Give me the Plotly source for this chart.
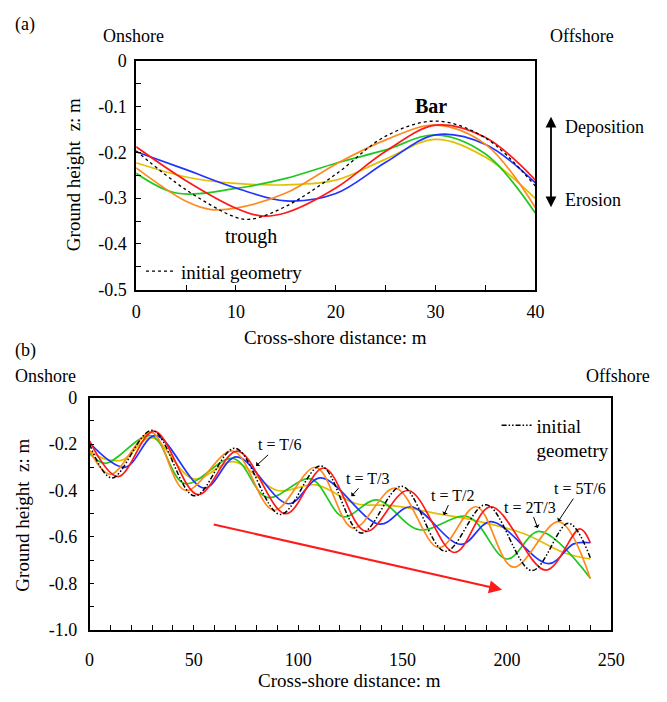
import plotly.graph_objects as go

W, H = 667, 702


def px(x):
    return x / W


def py(y):
    return 1 - y / H


FONT = "Liberation Serif"

# ---------------- Panel (a) data: cross-shore distance (m) / ground height (m)
a_init_x = [0, 5, 10, 11.5, 15, 20, 25, 30, 35, 40]
a_init_y = [-0.197, -0.282, -0.342, -0.346, -0.318, -0.248, -0.165, -0.132, -0.169, -0.274]
a_red_x = [0, 5, 10, 12.5, 15, 20, 25, 30, 35, 40]
a_red_y = [-0.188, -0.262, -0.322, -0.339, -0.332, -0.278, -0.198, -0.141, -0.168, -0.261]
a_orange_x = [0, 5, 7.5, 10, 15, 20, 25, 30, 35, 40]
a_orange_y = [-0.234, -0.307, -0.325, -0.322, -0.289, -0.226, -0.173, -0.141, -0.183, -0.321]
a_blue_x = [0, 5, 10, 15, 20, 25, 30, 35, 40]
a_blue_y = [-0.199, -0.238, -0.278, -0.306, -0.290, -0.222, -0.162, -0.183, -0.267]
a_green_x = [0, 4, 10, 15, 20, 25, 30, 35, 40]
a_green_y = [-0.246, -0.289, -0.279, -0.257, -0.224, -0.195, -0.162, -0.204, -0.333]
a_yellow_x = [0, 5, 10, 15, 20, 25, 30, 35, 40]
a_yellow_y = [-0.223, -0.254, -0.268, -0.271, -0.261, -0.215, -0.172, -0.211, -0.301]

# ---------------- Panel (b) data
b_init_x = [0, 10.7, 30, 50.3, 69.7, 91.4, 110.8, 130.2, 149.6, 170.5, 190, 212, 229.5, 240]
b_init_y = [-0.20, -0.346, -0.141, -0.423, -0.218, -0.503, -0.294, -0.583, -0.382, -0.662, -0.461, -0.745, -0.541, -0.69]
b_red_x = [0, 13.7, 31, 52, 70.9, 94, 112.3, 132.5, 152.7, 175, 192.3, 218.7, 235, 240]
b_red_y = [-0.186, -0.34, -0.144, -0.418, -0.23, -0.50, -0.303, -0.576, -0.40, -0.667, -0.47, -0.743, -0.565, -0.625]
b_orange_x = [0, 10, 29.6, 46, 68.6, 88.3, 108.4, 126.3, 146.5, 167.4, 185.3, 203, 224.9, 240]
b_orange_y = [-0.227, -0.33, -0.15, -0.40, -0.23, -0.485, -0.30, -0.562, -0.39, -0.646, -0.47, -0.73, -0.534, -0.78]
b_blue_x = [0, 17, 31.6, 55, 70.4, 95.3, 110.8, 139, 154, 178, 192.3, 220, 232, 240]
b_blue_y = [-0.195, -0.30, -0.164, -0.39, -0.255, -0.457, -0.346, -0.545, -0.47, -0.632, -0.534, -0.715, -0.63, -0.625]
b_green_x = [0, 7.6, 29.6, 45.6, 68.9, 85.2, 106, 121.6, 137.5, 158, 181.4, 200, 215.5, 240]
b_green_y = [-0.24, -0.283, -0.164, -0.37, -0.262, -0.43, -0.35, -0.513, -0.44, -0.569, -0.513, -0.695, -0.576, -0.778]
b_yellow_x = [0, 8, 16, 29.6, 50, 69, 90, 108.5, 128, 145, 170, 185, 208, 228, 240]
b_yellow_y = [-0.23, -0.266, -0.268, -0.172, -0.35, -0.276, -0.40, -0.376, -0.457, -0.465, -0.505, -0.53, -0.585, -0.67, -0.695]

# tick labels
a_xticks = [0, 10, 20, 30, 40]
a_yticks = [0, -0.1, -0.2, -0.3, -0.4, -0.5]
a_yticktext = ["0", "-0.1", "-0.2", "-0.3", "-0.4", "-0.5"]
b_xticks = [0, 50, 100, 150, 200, 250]
b_yticks = [0, -0.2, -0.4, -0.6, -0.8, -1.0]
b_yticktext = ["0", "-0.2", "-0.4", "-0.6", "-0.8", "-1.0"]

# time labels (panel b): text, arrow target
t_labels = ["t = T/6", "t = T/3", "t = T/2", "t = 2T/3", "t = 5T/6"]
t_target_x = [79.8, 125.5, 169.8, 214.8, 224.5]
t_target_y = [-0.294, -0.425, -0.506, -0.562, -0.534]
t_ax = [23, 16, 9, -8, 22]
t_ay = [-21, -18, -20, -21, -33]

RED = "#ff1a1a"
ORANGE = "#ff8a1f"
BLUE = "#2233ff"
GREEN = "#1ec81e"
YELLOW = "#e0c000"
LW = 1.7

fig = go.Figure()

a_series = [
    (a_yellow_x, a_yellow_y, YELLOW),
    (a_green_x, a_green_y, GREEN),
    (a_blue_x, a_blue_y, BLUE),
    (a_orange_x, a_orange_y, ORANGE),
    (a_red_x, a_red_y, RED),
]
for xs, ys, c in a_series:
    fig.add_trace(go.Scatter(x=xs, y=ys, mode="lines", xaxis="x", yaxis="y",
                             line=dict(color=c, width=LW, shape="spline", smoothing=1.0),
                             showlegend=False, hoverinfo="skip"))
fig.add_trace(go.Scatter(x=a_init_x, y=a_init_y, mode="lines", xaxis="x", yaxis="y",
                         name="initial geometry", legend="legend",
                         line=dict(color="black", width=1.3, dash="dot", shape="spline", smoothing=1.0),
                         hoverinfo="skip"))

b_series = [
    (b_yellow_x, b_yellow_y, YELLOW),
    (b_green_x, b_green_y, GREEN),
    (b_blue_x, b_blue_y, BLUE),
    (b_orange_x, b_orange_y, ORANGE),
    (b_red_x, b_red_y, RED),
]
for xs, ys, c in b_series:
    fig.add_trace(go.Scatter(x=xs, y=ys, mode="lines", xaxis="x2", yaxis="y2",
                             line=dict(color=c, width=LW, shape="spline", smoothing=1.0),
                             showlegend=False, hoverinfo="skip"))
fig.add_trace(go.Scatter(x=b_init_x, y=b_init_y, mode="lines", xaxis="x2", yaxis="y2",
                         name="initial<br>geometry", legend="legend2",
                         line=dict(color="black", width=1.5, dash="5px,2px,1.5px,2px,1.5px,2px",
                                   shape="spline", smoothing=1.0),
                         hoverinfo="skip"))

axis_common = dict(showline=True, mirror=True, linecolor="black", linewidth=1.5,
                   showgrid=False, zeroline=False, ticks="inside", ticklen=5,
                   tickwidth=1.2, tickcolor="black",
                   tickfont=dict(family=FONT, size=18, color="black"))

fig.update_layout(
    width=W, height=H,
    margin=dict(l=0, r=0, t=0, b=0),
    paper_bgcolor="white", plot_bgcolor="white",
    font=dict(family=FONT, size=18, color="black"),
    xaxis=dict(domain=[px(135), px(546)], anchor="y", range=[0, 40],
               tickvals=a_xticks, ticklabelstandoff=5,
               minor=dict(dtick=5, ticks="inside", ticklen=5, tickwidth=1.2, tickcolor="black"),
               **axis_common),
    yaxis=dict(domain=[py(288), py(52)], anchor="x", range=[-0.5, 0],
               tickvals=a_yticks, ticktext=a_yticktext, ticklabelstandoff=4,
               minor=dict(dtick=0.05, ticks="inside", ticklen=5, tickwidth=1.2, tickcolor="black"),
               **axis_common),
    xaxis2=dict(domain=[px(87), px(624)], anchor="y2", range=[0, 250],
                tickvals=b_xticks, ticklabelstandoff=13,
                minor=dict(dtick=10, ticks="inside", ticklen=5, tickwidth=1.2, tickcolor="black"),
                **axis_common),
    yaxis2=dict(domain=[py(638), py(399)], anchor="x2", range=[-1.0, 0],
                tickvals=b_yticks, ticktext=b_yticktext, ticklabelstandoff=7,
                minor=dict(dtick=0.1, ticks="inside", ticklen=5, tickwidth=1.2, tickcolor="black"),
                **axis_common),
    legend=dict(x=px(140), y=py(269), xanchor="left", yanchor="middle",
                bgcolor="rgba(0,0,0,0)", font=dict(family=FONT, size=19),
                itemclick=False, itemdoubleclick=False),
    legend2=dict(x=px(506), y=py(408), xanchor="left", yanchor="top", valign="top",
                 bgcolor="rgba(0,0,0,0)", font=dict(family=FONT, size=19),
                 itemclick=False, itemdoubleclick=False),
)

ann = []


def text(x, y, s, size=18, xanchor="center", **kw):
    ann.append(dict(x=px(x), y=py(y), xref="paper", yref="paper", text=s, showarrow=False,
                    xanchor=xanchor, yanchor="middle",
                    font=dict(family=FONT, size=size, color="black"), **kw))


text(21, 15, "(a)")
text(132, 27, "Onshore")
text(594, 27, "Offshore")
text(21, 350, "(b)")
text(42, 377, "Onshore")
text(631, 377, "Offshore")
text(340, 337, "Cross-shore distance: m", size=19)
text(355, 690, "Cross-shore distance: m", size=19)
text(70, 170, "Ground height  z: m", size=19, textangle=-90)
text(18, 520, "Ground height  z: m", size=19, textangle=-90)
text(574, 120, "Deposition", xanchor="left")
text(574, 196, "Erosion", xanchor="left")

# panel (a) labels
ann.append(dict(x=29.5, y=-0.1, xref="x", yref="y", text="<b>Bar</b>", showarrow=False,
                font=dict(family=FONT, size=20, color="black")))
ann.append(dict(x=11.5, y=-0.384, xref="x", yref="y", text="trough", showarrow=False,
                font=dict(family=FONT, size=20, color="black")))
# deposition / erosion double arrow
ann.append(dict(x=px(562), y=py(203), xref="paper", yref="paper", ax=0, ay=-92,
                text="", showarrow=True, arrowhead=2, arrowside="end+start", arrowsize=1.2,
                arrowwidth=1.8, arrowcolor="black"))

# panel (b) time labels
for s, tx, ty, dx, dy in zip(t_labels, t_target_x, t_target_y, t_ax, t_ay):
    ann.append(dict(x=tx, y=ty, xref="x2", yref="y2", text=s, showarrow=True,
                    ax=dx, ay=dy, arrowhead=1, arrowsize=1, arrowwidth=1, arrowcolor="black",
                    standoff=0, font=dict(family=FONT, size=16, color="black")))

# red migration arrow
ann.append(dict(x=197.7, y=-0.827, xref="x2", yref="y2", ax=58.8, ay=-0.545,
                axref="x2", ayref="y2", text="", showarrow=True, arrowhead=2,
                arrowsize=1.3, arrowwidth=2, arrowcolor="#ff1a1a"))

fig.update_layout(annotations=ann)

fig.write_html("out.html", config={"displayModeBar": False},
               post_script="document.body.style.margin='0px';document.body.style.overflow='hidden';")
